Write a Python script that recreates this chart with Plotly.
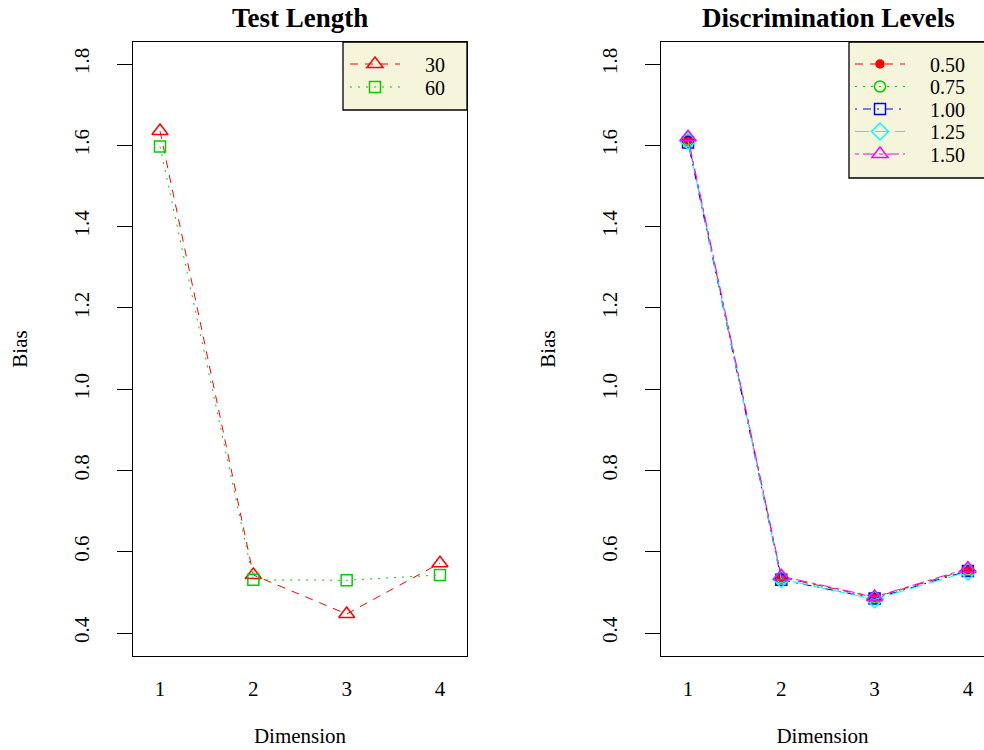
import plotly.graph_objects as go

# Bias by dimension
dims = [1, 2, 3, 4]

# Panel 1: test length
len_names = ["30", "60"]
bias_len30 = [1.635, 0.543, 0.447, 0.572]
bias_len60 = [1.597, 0.531, 0.530, 0.543]

# Panel 2: discrimination levels
disc_names = ["0.50", "0.75", "1.00", "1.25", "1.50"]
bias_d050 = [1.613, 0.537, 0.488, 0.556]
bias_d075 = [1.612, 0.536, 0.487, 0.555]
bias_d100 = [1.607, 0.531, 0.485, 0.553]
bias_d125 = [1.611, 0.533, 0.483, 0.551]
bias_d150 = [1.620, 0.540, 0.489, 0.559]

y_ticks = [0.4, 0.6, 0.8, 1.0, 1.2, 1.4, 1.6, 1.8]
y_ticktext = ["0.4", "0.6", "0.8", "1.0", "1.2", "1.4", "1.6", "1.8"]

FONT = "Liberation Serif"
W, H = 984, 750
PAD = "\u00a0" * 4  # gap between legend key and label

# pixel geometry of the two plot boxes
top_px, bot_px = 42, 656
l1, r1 = 133, 467
l2, r2 = 661, 984

fig = go.Figure()
legends = {}


def add_legend(key, x_px, y_px):
    legends[key] = dict(
        x=x_px / W, xanchor="left", y=(H - y_px) / H, yanchor="middle",
        bgcolor="rgba(0,0,0,0)", borderwidth=0,
        font=dict(family=FONT, size=20, color="black"),
        itemwidth=50, itemclick=False, itemdoubleclick=False,
    )


len_styles = [
    dict(color="#FF0000", dash="8px,7px", symbol="triangle-up-open", size=14),
    dict(color="#00CD00", dash="2px,6px", symbol="square-open", size=11),
]
len_rows = [64, 87]
n_leg = 0
for name, vals, st, row in zip(len_names, [bias_len30, bias_len60], len_styles, len_rows):
    n_leg += 1
    key = "legend" if n_leg == 1 else f"legend{n_leg}"
    add_legend(key, 345, row)
    fig.add_trace(go.Scatter(
        x=dims, y=vals, name=PAD + name, mode="lines+markers",
        line=dict(color=st["color"], width=1, dash=st["dash"]),
        marker=dict(symbol=st["symbol"], size=st["size"], color=st["color"],
                    line=dict(width=1.5, color=st["color"])),
        xaxis="x", yaxis="y", legend=key,
    ))

disc_styles = [
    dict(color="#FF0000", dash="8px,7px", symbol="circle", size=8),
    dict(color="#00CD00", dash="2px,6px", symbol="circle-open", size=11),
    dict(color="#0000FF", dash="2px,6px,8px,6px", symbol="square-open", size=11),
    dict(color="#00FFFF", dash="14px,6px", symbol="diamond-open", size=13),
    dict(color="#FF00FF", dash="4px,4px,12px,4px", symbol="triangle-up-open", size=14),
]
disc_vals = [bias_d050, bias_d075, bias_d100, bias_d125, bias_d150]
disc_rows = [64, 86.5, 109, 131.5, 154]
for name, vals, st, row in zip(disc_names, disc_vals, disc_styles, disc_rows):
    n_leg += 1
    key = f"legend{n_leg}"
    add_legend(key, 850, row)
    fig.add_trace(go.Scatter(
        x=dims, y=vals, name=PAD + name, mode="lines+markers",
        line=dict(color=st["color"], width=1, dash=st["dash"]),
        marker=dict(symbol=st["symbol"], size=st["size"], color=st["color"],
                    line=dict(width=1.5, color=st["color"])),
        xaxis="x2", yaxis="y2", legend=key,
    ))

# x: 1 at 27px inside the left edge, 93.3px per unit
px_per_unit = 93.3
x_lo = 1 - 27 / px_per_unit
x_hi1 = 4 + 27 / px_per_unit
x_hi2 = 1 + (r2 - l2 - 27) / px_per_unit
# y: 0.2 per 81.3px, 1.8 at y=64px
px_per_y = 81.3 / 0.2
y_hi = 1.8 + (64 - top_px) / px_per_y
y_lo = 1.8 - (bot_px - 64) / px_per_y

ydom = [(H - bot_px) / H, (H - top_px) / H]

common_x = dict(
    tickmode="array", tickvals=dims, ticktext=[str(d) for d in dims],
    ticks="", showgrid=False, zeroline=False, showline=True,
    linecolor="black", linewidth=1.3,
    tickfont=dict(family=FONT, size=21, color="black"),
    ticklabelstandoff=14,
    title=dict(text="Dimension", font=dict(family=FONT, size=21, color="black"),
               standoff=27),
    automargin=False,
)
common_y = dict(
    tickmode="array", tickvals=y_ticks, ticktext=y_ticktext,
    ticks="outside", ticklen=15, tickwidth=1.2, tickcolor="black",
    tickangle=-90, showgrid=False, zeroline=False, showline=True,
    linecolor="black", linewidth=1.3, range=[y_lo, y_hi],
    tickfont=dict(family=FONT, size=21, color="black"),
    ticklabelstandoff=19,
    title=dict(text="Bias", font=dict(family=FONT, size=21, color="black"),
               standoff=37),
    automargin=False,
)


def legend_box(x0_px, x1_px, y0_px, y1_px):
    return dict(
        type="rect", xref="paper", yref="paper", layer="above",
        x0=x0_px / W, x1=x1_px / W, y0=(H - y1_px) / H, y1=(H - y0_px) / H,
        fillcolor="#F5F5DC", line=dict(color="black", width=1.3),
    )


fig.update_layout(
    width=W, height=H,
    margin=dict(l=0, r=0, t=0, b=0),
    paper_bgcolor="white", plot_bgcolor="white",
    showlegend=True,
    xaxis=dict(domain=[l1 / W, r1 / W], range=[x_lo, x_hi1], mirror=True, anchor="y", **common_x),
    yaxis=dict(domain=ydom, mirror=True, anchor="x", **common_y),
    xaxis2=dict(domain=[l2 / W, r2 / W], range=[x_lo, x_hi2], mirror=True, anchor="y2", **common_x),
    yaxis2=dict(domain=ydom, mirror=False, anchor="x2", **common_y),
    shapes=[legend_box(343, r1, top_px, 110), legend_box(849, 1000, top_px, 178)],
    annotations=[
        dict(text="<b>Test Length</b>", x=(l1 + r1) / 2 / W, y=(H - 18) / H,
             xref="paper", yref="paper", xanchor="center", yanchor="middle",
             showarrow=False, font=dict(family=FONT, size=27, color="black")),
        dict(text="<b>Discrimination Levels</b>", x=828 / W, y=(H - 18) / H,
             xref="paper", yref="paper", xanchor="center", yanchor="middle",
             showarrow=False, font=dict(family=FONT, size=27, color="black")),
    ],
    **legends,
)

fig.write_html("out.html")
